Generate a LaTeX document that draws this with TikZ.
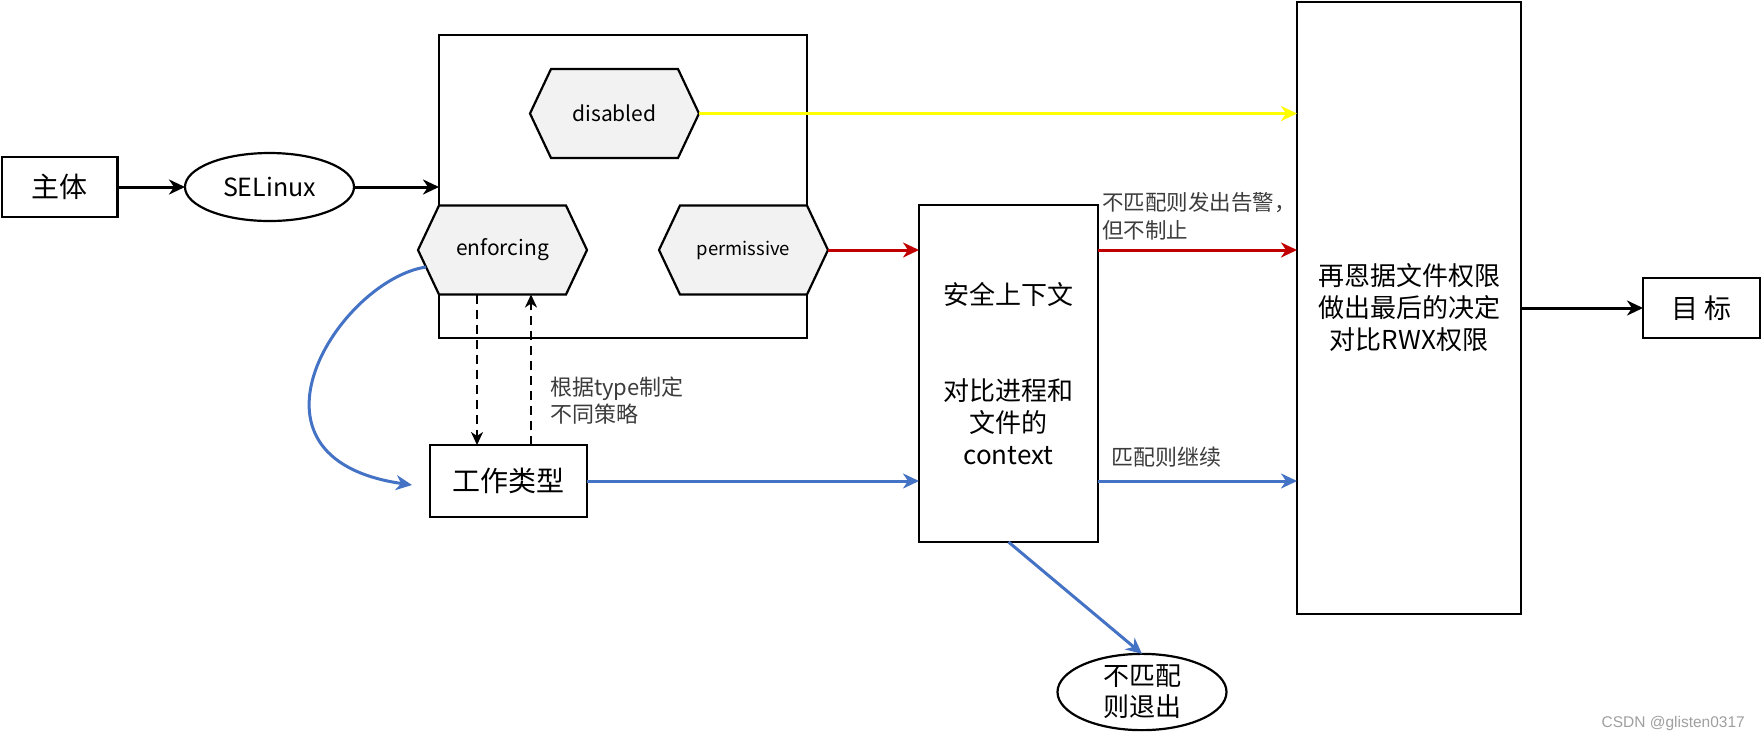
\documentclass[tikz,border=0pt]{standalone}
\usepackage{fontspec}
\setmainfont{Noto Sans CJK SC}
\newfontfamily\wmfont{Liberation Sans}
\usetikzlibrary{arrows.meta,backgrounds,shapes.geometric}
\definecolor{hexfill}{HTML}{F2F2F2}
\definecolor{myblue}{HTML}{4472C4}
\definecolor{myred}{HTML}{C00000}
\definecolor{myyellow}{HTML}{FFFF00}
\definecolor{lblgray}{HTML}{3C3C3C}
\tikzset{
  box/.style={draw, line width=2.2pt, inner sep=0pt, outer sep=0pt},
  oval/.style={ellipse, draw, line width=2.2pt, inner sep=0pt, outer sep=0pt, minimum width=169pt, minimum height=68pt},
  hexn/.style={inner sep=0pt, outer sep=0pt, minimum width=169pt, minimum height=89pt},
  hexline/.style={draw=black, line width=2.2pt, fill=hexfill, line join=miter},
  conn/.style={line width=3pt, -{Stealth[length=16pt,width=15pt,inset=5pt]}},
  dashconn/.style={line width=2.4pt, dash pattern=on 9pt off 6pt, -{Stealth[length=13pt,width=12pt,inset=4pt]}},
  lbl/.style={text=lblgray, align=left, font=\fontsize{22}{27}\selectfont, inner sep=0pt},
  big/.style={font=\fontsize{26}{32}\selectfont, align=center}
}
\begin{document}
\begin{tikzpicture}[x=1pt,y=-1pt]
\useasboundingbox (0,0) rectangle (1761,740);

% nodes
\node[box, minimum width=115.5pt, minimum height=60pt, font=\fontsize{28}{32}\selectfont] (subj) at (59.75,187) {主体};
\node[oval, font=\fontsize{25}{30}\selectfont] (sel) at (269.5,187) {SELinux};
\node[hexn, font=\fontsize{21}{25}\selectfont] (dis) at (614.5,113.5) {disabled};
\node[hexn, font=\fontsize{21}{25}\selectfont] (enf) at (502.5,250) {enforcing};
\node[hexn, font=\fontsize{18.5}{22}\selectfont] (per) at (743.5,250) {permissive};
\node[box, minimum width=157pt, minimum height=72pt, font=\fontsize{28}{32}\selectfont] (work) at (508.5,481) {工作类型};
\node[box, big, minimum width=179pt, minimum height=337pt] (ctx) at (1008.5,373.5) {安全上下文\\[64pt]对比进程和\\文件的\\context};
\node[box, big, minimum width=224pt, minimum height=612pt] (fin) at (1409,308) {再恩据文件权限\\做出最后的决定\\对比RWX权限};
\node[box, minimum width=117pt, minimum height=60pt, font=\fontsize{27}{32}\selectfont] (tgt) at (1701.5,308) {目 标};
\node[oval, big, font=\fontsize{26}{31}\selectfont] (exit) at (1142,692) {不匹配\\则退出};

% labels
\node[lbl, anchor=west] (lab1) at (550,400.5) {根据type制定\\不同策略};
\node[lbl, anchor=west, font=\fontsize{21.5}{28}\selectfont] (lab2) at (1102,216) {不匹配则发出告警，\\但不制止};
\node[lbl, anchor=west] (lab3) at (1111,457) {匹配则继续};
\node[anchor=base east, text=gray!75, font=\wmfont\fontsize{15.5}{18}\selectfont, inner sep=0pt] (wm) at (1745,727) {CSDN @glisten0317};

% background: container box and hexagons
\begin{scope}[on background layer]
  \node[box, minimum width=368pt, minimum height=303pt] (mode) at (623,186.5) {};
  \foreach \n in {dis,enf,per}{
    \draw[hexline] (\n.west) -- ([xshift=21pt]\n.north west) -- ([xshift=-21pt]\n.north east)
      -- (\n.east) -- ([xshift=-21pt]\n.south east) -- ([xshift=21pt]\n.south west) -- cycle;
  }
\end{scope}

% connectors
\draw[conn] (subj) -- (sel);
\draw[conn] (sel) -- (mode.west |- sel.east);
\draw[conn, myyellow] (dis.east) -- (dis.east -| fin.west);
\draw[conn, myred] (per.east) -- (per.east -| ctx.west);
\draw[conn, myred] (ctx.east |- per.east) -- (fin.west |- per.east);
\draw[conn, myblue] (work.east) -- (work.east -| ctx.west);
\draw[conn, myblue] (ctx.east |- work.east) -- (fin.west |- work.east);
\draw[conn] (fin.east |- tgt.west) -- (tgt.west);
\draw[conn, myblue] (ctx.south) -- (exit.north);
\draw[conn, myblue] ([xshift=8pt,yshift=-17pt]enf.west) .. controls (340,280) and (225,458) .. ([xshift=-18pt,yshift=-4pt]work.west);
\draw[dashconn] ([xshift=-25.5pt]enf.south) -- ([xshift=-25.5pt]enf.south |- work.north);
\draw[dashconn] ([xshift=28.5pt]enf.south |- work.north) -- ([xshift=28.5pt]enf.south);
\end{tikzpicture}
\end{document}
